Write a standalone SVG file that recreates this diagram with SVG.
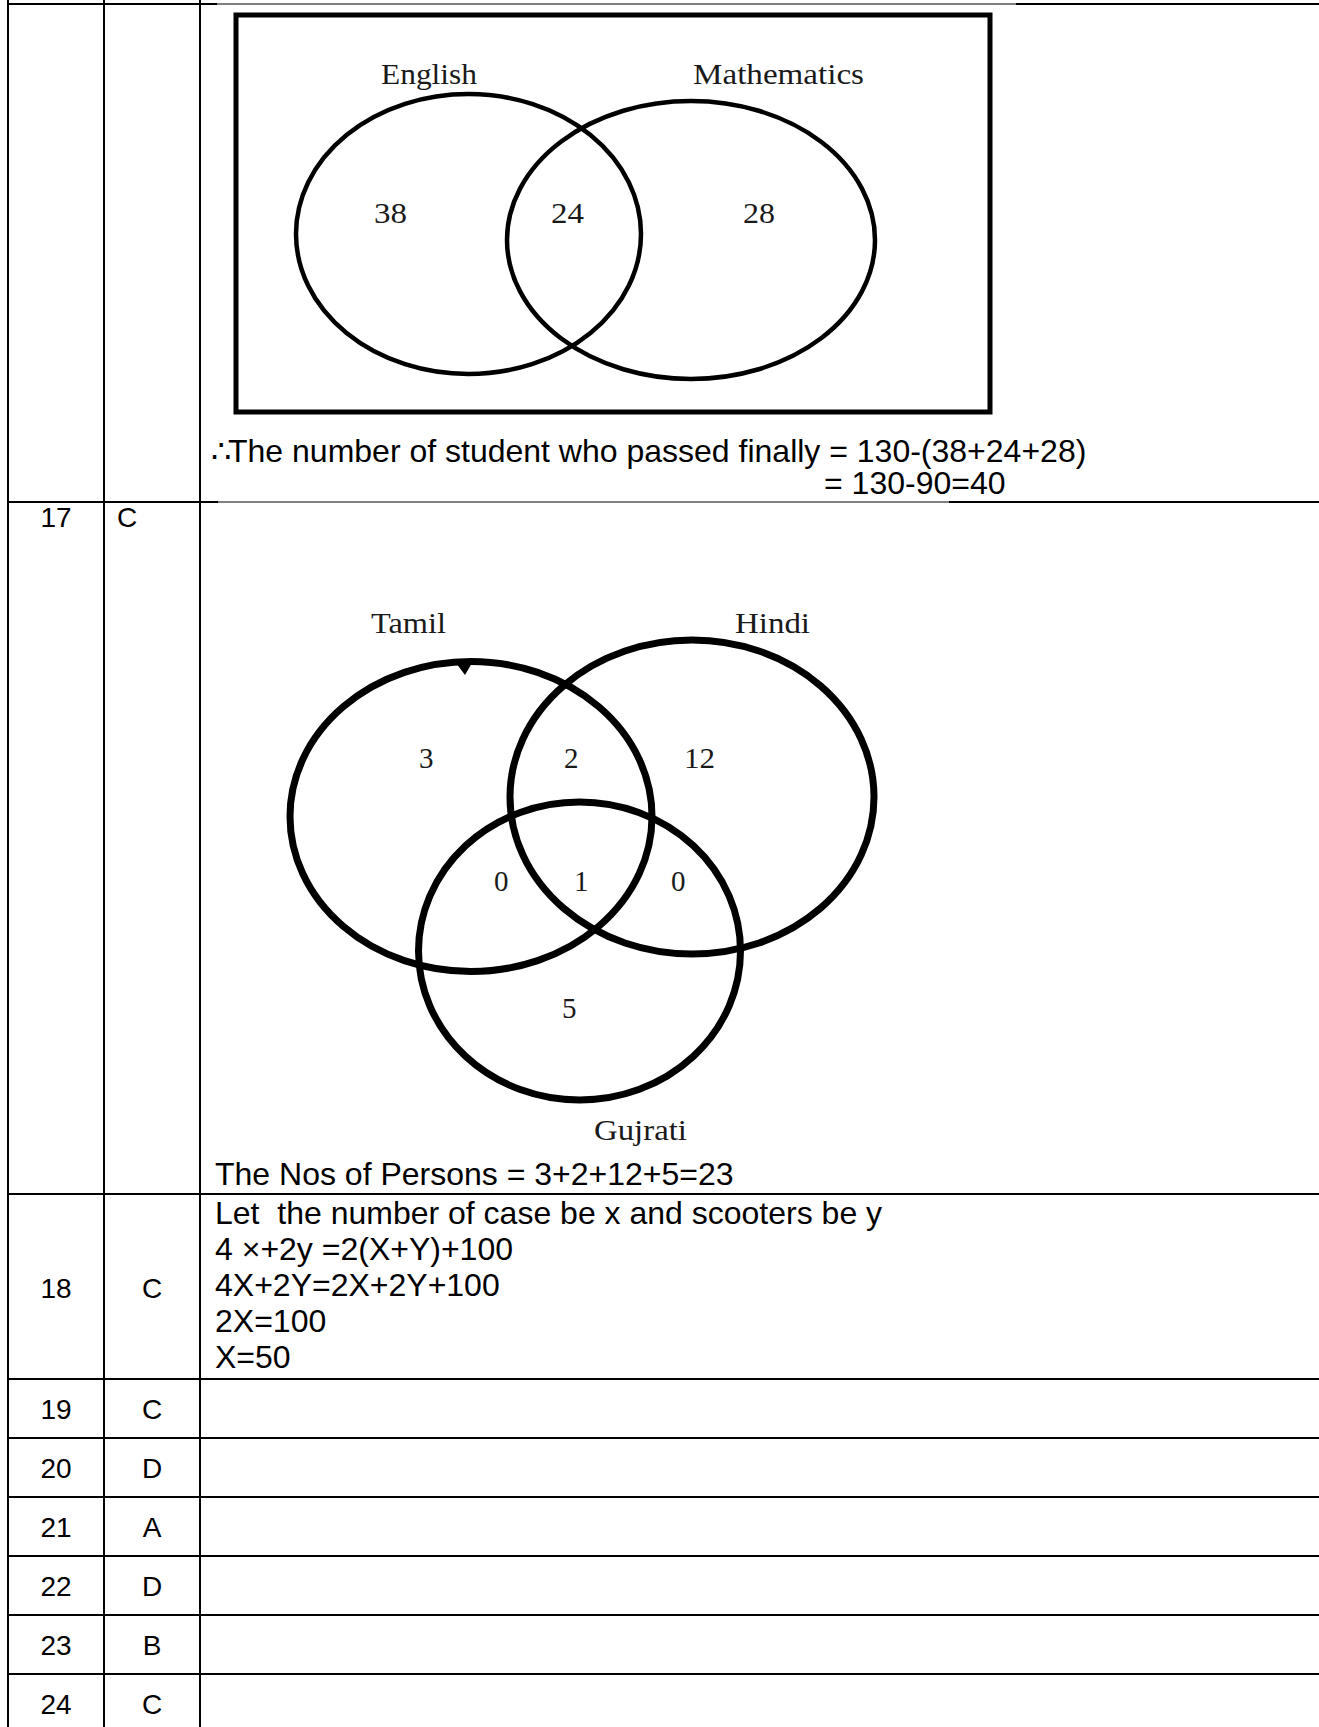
<svg xmlns="http://www.w3.org/2000/svg" width="1319" height="1727" viewBox="0 0 1319 1727">
<style>
.grid{stroke:#000;stroke-width:2;fill:none}
.thin{stroke:#000;stroke-width:1;fill:none}
.cell{font-family:"Liberation Sans",Arial,sans-serif;font-size:28px;fill:#000}
.ans{font-family:"Liberation Sans",Arial,sans-serif;font-size:32px;fill:#000;white-space:pre}
.lbl{font-family:"Liberation Serif","Times New Roman",serif;font-size:29px;fill:#1a1a1a}
.v1{stroke:#000;stroke-width:4.5;fill:none}
.v2{stroke:#000;stroke-width:7;fill:none}
</style>
<rect x="0" y="0" width="1319" height="1727" fill="#fff"/>
<g id="table">
  <line class="grid" x1="8" y1="0" x2="8" y2="1727"/>
  <line class="grid" x1="104" y1="0" x2="104" y2="1727"/>
  <line class="grid" x1="200" y1="0" x2="200" y2="1727"/>
  <line class="grid" x1="8" y1="4" x2="217" y2="4"/>
  <line class="thin" x1="217" y1="4" x2="1016" y2="4"/>
  <line class="grid" x1="1016" y1="4" x2="1319" y2="4"/>
  <line class="grid" x1="8" y1="502" x2="218" y2="502"/>
  <line class="thin" x1="218" y1="502" x2="949" y2="502"/>
  <line class="grid" x1="949" y1="502" x2="1319" y2="502"/>
  <line class="grid" x1="8" y1="1194" x2="1319" y2="1194"/>
  <line class="grid" x1="8" y1="1379" x2="1319" y2="1379"/>
  <line class="grid" x1="8" y1="1438" x2="1319" y2="1438"/>
  <line class="grid" x1="8" y1="1497" x2="1319" y2="1497"/>
  <line class="grid" x1="8" y1="1556" x2="1319" y2="1556"/>
  <line class="grid" x1="8" y1="1615" x2="1319" y2="1615"/>
  <line class="grid" x1="8" y1="1674" x2="1319" y2="1674"/>
</g>
<g id="venn1">
  <rect x="236" y="15" width="754" height="397" fill="none" stroke="#000" stroke-width="5"/>
  <ellipse class="v1" cx="468.5" cy="234" rx="172.5" ry="140"/>
  <ellipse class="v1" cx="691" cy="240" rx="184" ry="139"/>
  <text class="lbl" x="381" y="84" textLength="96" lengthAdjust="spacingAndGlyphs">English</text>
  <text class="lbl" x="693" y="84" textLength="171" lengthAdjust="spacingAndGlyphs">Mathematics</text>
  <text class="lbl" x="374" y="223" textLength="33" lengthAdjust="spacingAndGlyphs">38</text>
  <text class="lbl" x="551" y="223" textLength="33" lengthAdjust="spacingAndGlyphs">24</text>
  <text class="lbl" x="743" y="223" textLength="32" lengthAdjust="spacingAndGlyphs">28</text>
</g>
<g id="row16-text">
  <text class="ans" x="211" y="462" font-size="22">∴</text>
  <text class="ans" x="228" y="462">The number of student who passed finally = 130-(38+24+28)</text>
  <text class="ans" x="824" y="494">= 130-90=40</text>
</g>
<g id="row17">
  <text class="cell" x="56" y="527" text-anchor="middle">17</text>
  <text class="cell" x="117" y="527">C</text>
</g>
<g id="venn2">
  <ellipse class="v2" cx="471" cy="816.5" rx="181" ry="155"/>
  <ellipse class="v2" cx="692" cy="797" rx="182" ry="157"/>
  <ellipse class="v2" cx="579.5" cy="951" rx="161" ry="149"/>
  <path d="M456,663 L472,663 L465,675 Z" fill="#000"/>
  <text class="lbl" x="371" y="633" textLength="75" lengthAdjust="spacingAndGlyphs">Tamil</text>
  <text class="lbl" x="735" y="633" textLength="75" lengthAdjust="spacingAndGlyphs">Hindi</text>
  <text class="lbl" x="419" y="768">3</text>
  <text class="lbl" x="564" y="768">2</text>
  <text class="lbl" x="684" y="768" textLength="31" lengthAdjust="spacingAndGlyphs">12</text>
  <text class="lbl" x="494" y="891">0</text>
  <text class="lbl" x="574" y="891">1</text>
  <text class="lbl" x="671" y="891">0</text>
  <text class="lbl" x="562" y="1018">5</text>
  <text class="lbl" x="594" y="1140" textLength="93" lengthAdjust="spacingAndGlyphs">Gujrati</text>
</g>
<g id="row17-text">
  <text class="ans" x="215" y="1185">The Nos of Persons = 3+2+12+5=23</text>
</g>
<g id="row18">
  <text class="cell" x="56" y="1298" text-anchor="middle">18</text>
  <text class="cell" x="152" y="1298" text-anchor="middle">C</text>
  <text class="ans" x="215" y="1224">Let  the number of case be x and scooters be y</text>
  <text class="ans" x="215" y="1260">4 ×+2y =2(X+Y)+100</text>
  <text class="ans" x="215" y="1296">4X+2Y=2X+2Y+100</text>
  <text class="ans" x="215" y="1332">2X=100</text>
  <text class="ans" x="215" y="1368">X=50</text>
</g>
<g id="row19"><text class="cell" x="56" y="1419" text-anchor="middle">19</text><text class="cell" x="152" y="1419" text-anchor="middle">C</text></g>
<g id="row20"><text class="cell" x="56" y="1478" text-anchor="middle">20</text><text class="cell" x="152" y="1478" text-anchor="middle">D</text></g>
<g id="row21"><text class="cell" x="56" y="1537" text-anchor="middle">21</text><text class="cell" x="152" y="1537" text-anchor="middle">A</text></g>
<g id="row22"><text class="cell" x="56" y="1596" text-anchor="middle">22</text><text class="cell" x="152" y="1596" text-anchor="middle">D</text></g>
<g id="row23"><text class="cell" x="56" y="1655" text-anchor="middle">23</text><text class="cell" x="152" y="1655" text-anchor="middle">B</text></g>
<g id="row24"><text class="cell" x="56" y="1714" text-anchor="middle">24</text><text class="cell" x="152" y="1714" text-anchor="middle">C</text></g>
</svg>
